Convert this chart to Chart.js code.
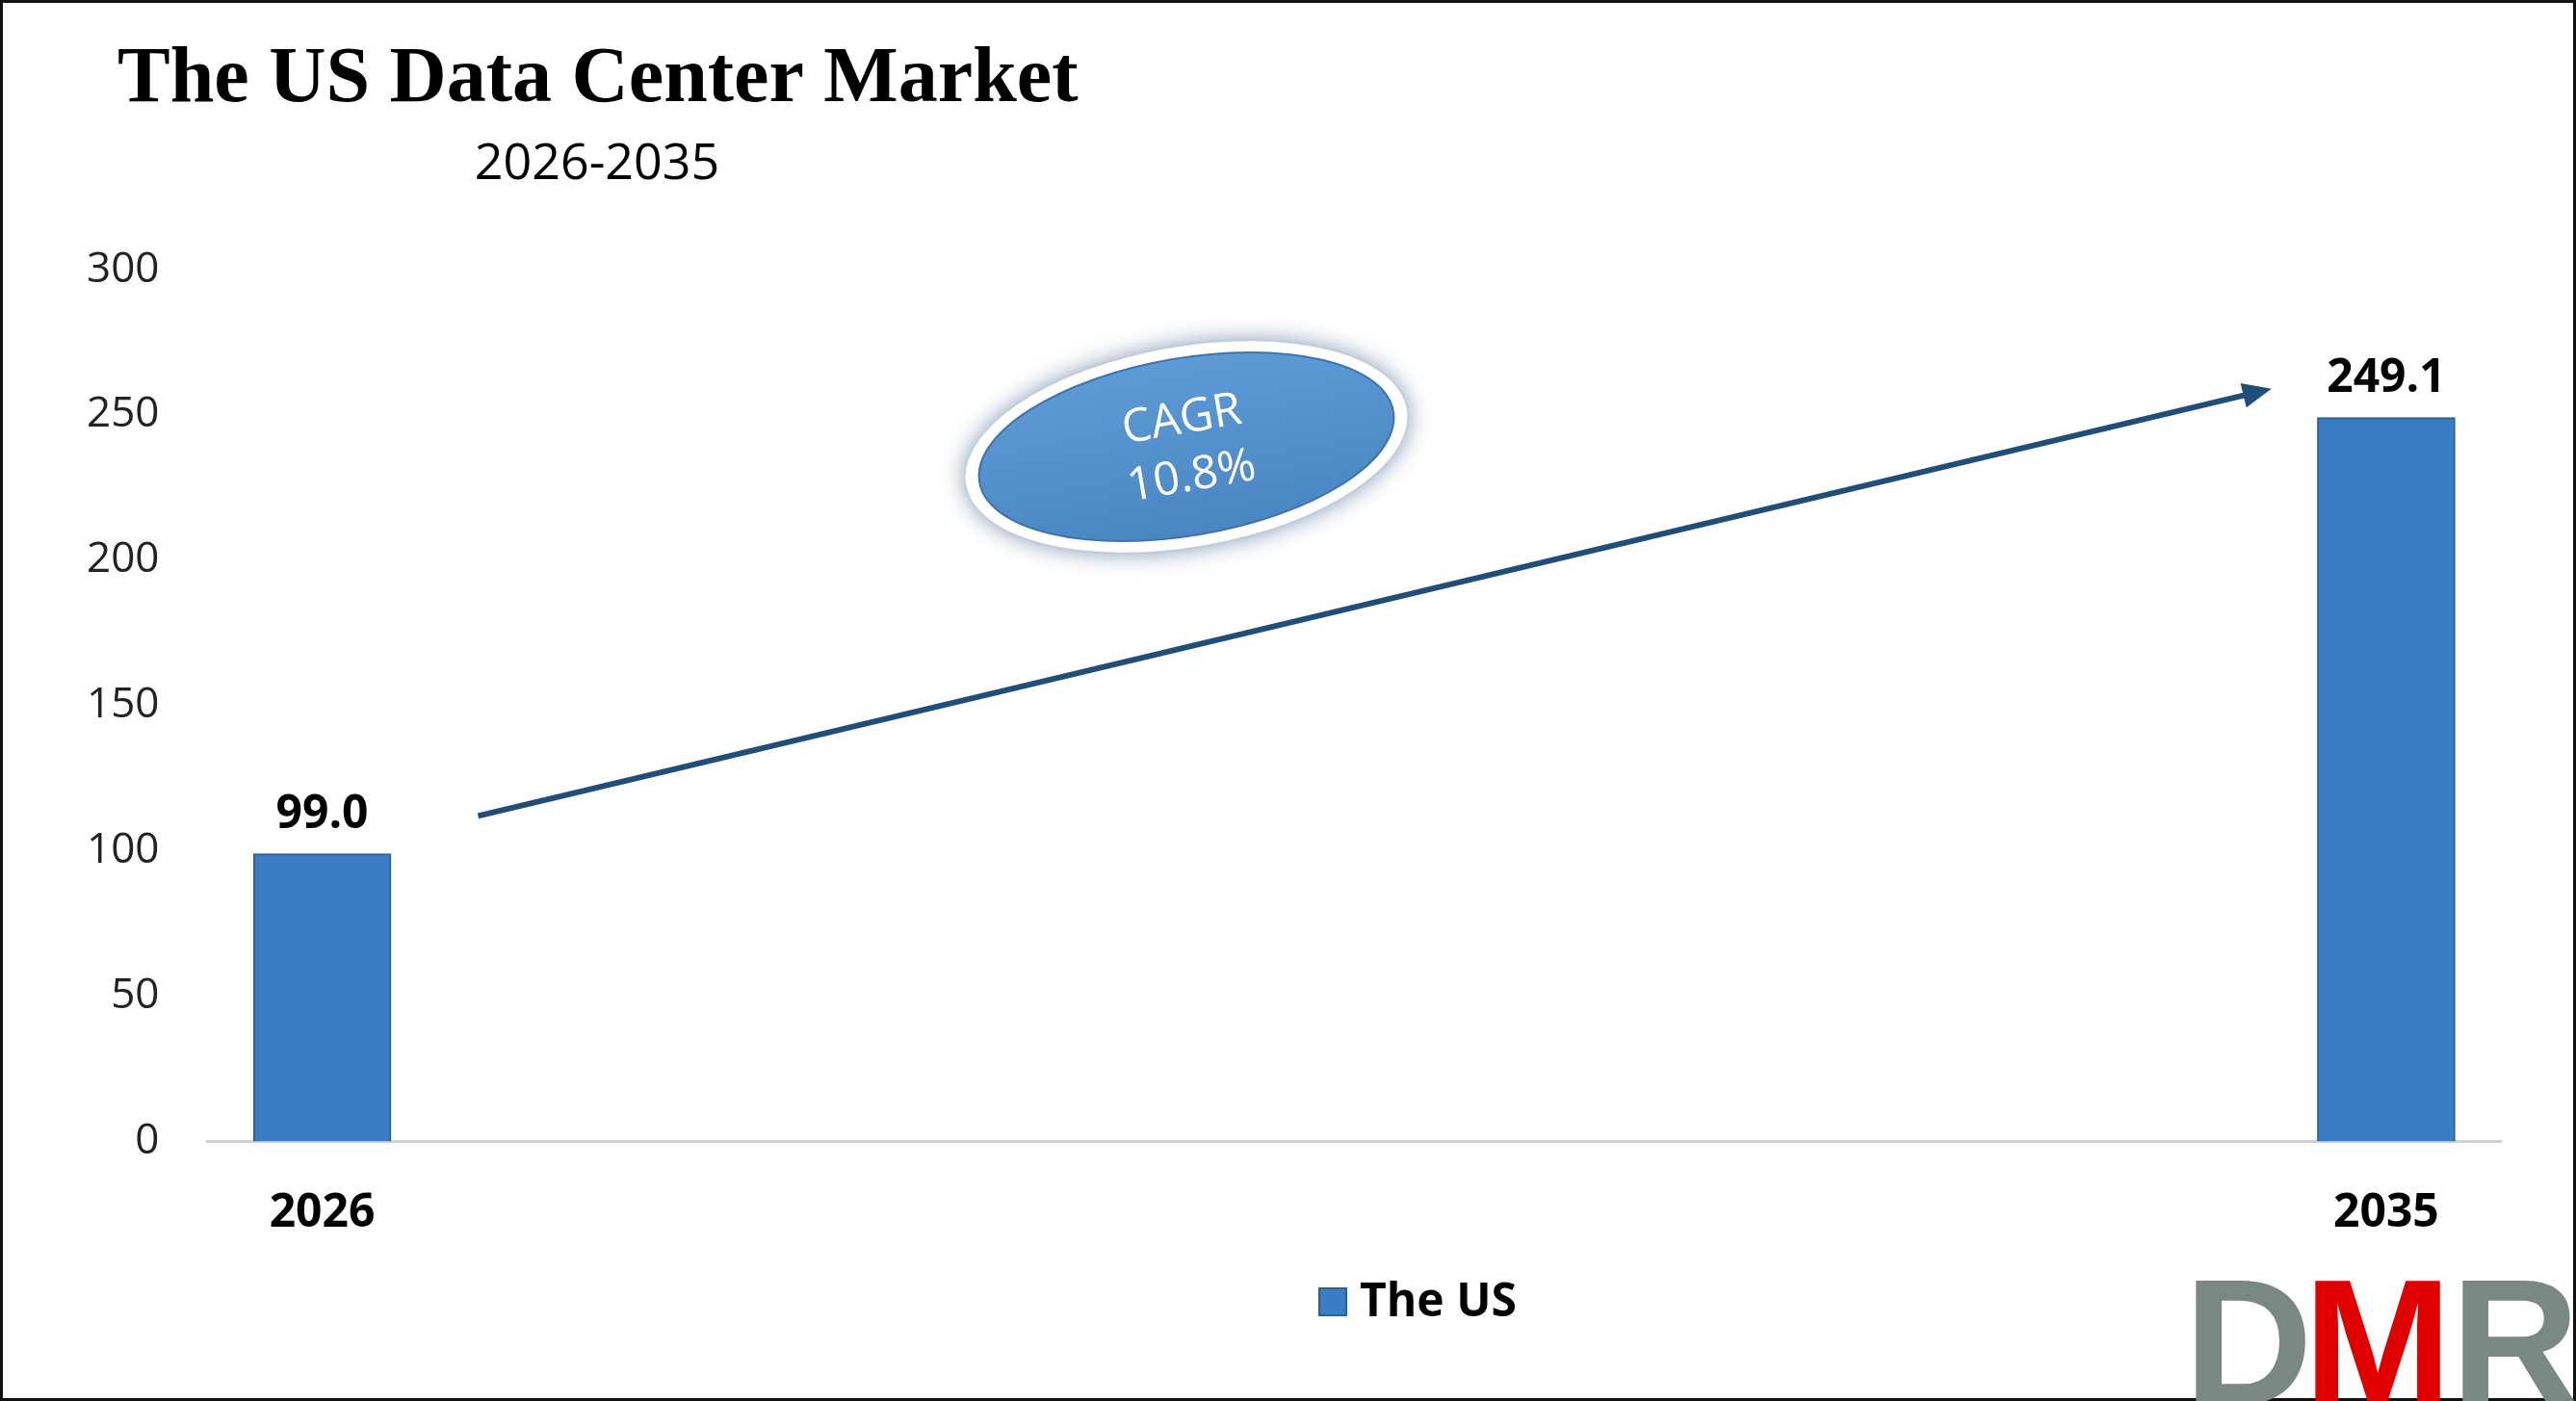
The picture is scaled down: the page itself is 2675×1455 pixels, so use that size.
<!DOCTYPE html>
<html><head><meta charset="utf-8">
<script src="https://cdn.jsdelivr.net/npm/chart.js@4"></script>
<style>html,body{margin:0;padding:0;background:#fff}#wrap{width:2675px;height:1455px;position:relative}</style>
</head><body><div id="wrap"><canvas id="c" width="2675" height="1455"></canvas></div>
<script>
const years = [2026, 2035];
const values = [99.0, 249.1];
const seriesName = 'The US';
const yTicks = [0, 50, 100, 150, 200, 250, 300];
const cagrText = ['CAGR', '10.8%'];
const arrowFrom = [2026.68, 112];
const arrowTo = [2034.5, 259];

const deco = {
  id: 'deco',
  afterDraw(chart) {
    const ctx = chart.ctx, x = chart.scales.x, y = chart.scales.y;
    ctx.save();
    ctx.strokeStyle = '#111'; ctx.lineWidth = 3;
    ctx.strokeRect(1.5, 1.5, 2672, 1452);
    ctx.fillStyle = '#000'; ctx.textBaseline = 'middle';
    ctx.font = 'bold 82px "Liberation Serif", serif'; ctx.textAlign = 'left';
    ctx.fillText('The US Data Center Market', 122, 84);
    ctx.font = '52px "Open Sans", sans-serif'; ctx.textAlign = 'center';
    ctx.fillText('2026-2035', 620, 171);
    ctx.font = 'bold 48px "Open Sans", sans-serif'; ctx.textBaseline = 'bottom';
    years.forEach((yr, i) => ctx.fillText(values[i].toFixed(1), x.getPixelForValue(yr), y.getPixelForValue(values[i]) - 16));
    const x1 = x.getPixelForValue(arrowFrom[0]), y1 = y.getPixelForValue(arrowFrom[1]);
    const x2 = x.getPixelForValue(arrowTo[0]), y2 = y.getPixelForValue(arrowTo[1]);
    const ang = Math.atan2(y2 - y1, x2 - x1);
    ctx.strokeStyle = '#1f4e79'; ctx.fillStyle = '#1f4e79'; ctx.lineWidth = 6;
    ctx.beginPath(); ctx.moveTo(x1, y1); ctx.lineTo(x2 - 20 * Math.cos(ang), y2 - 20 * Math.sin(ang)); ctx.stroke();
    ctx.beginPath(); ctx.moveTo(x2, y2);
    ctx.lineTo(x2 - 30 * Math.cos(ang) + 13 * Math.sin(ang), y2 - 30 * Math.sin(ang) - 13 * Math.cos(ang));
    ctx.lineTo(x2 - 30 * Math.cos(ang) - 13 * Math.sin(ang), y2 - 30 * Math.sin(ang) + 13 * Math.cos(ang));
    ctx.closePath(); ctx.fill();
    ctx.translate(1232, 464); ctx.rotate(-0.17);
    ctx.shadowColor = 'rgba(30,70,120,0.6)'; ctx.shadowBlur = 25;
    ctx.fillStyle = '#fff';
    ctx.beginPath(); ctx.ellipse(0, 0, 232, 104, 0, 0, Math.PI * 2); ctx.fill();
    ctx.shadowBlur = 0;
    const g = ctx.createLinearGradient(0, -92, 0, 92);
    g.addColorStop(0, '#5d9ad6'); g.addColorStop(1, '#4a86c2');
    ctx.fillStyle = g;
    ctx.beginPath(); ctx.ellipse(0, 0, 218, 92, 0, 0, Math.PI * 2); ctx.fill();
    ctx.strokeStyle = '#3d74ad'; ctx.lineWidth = 2; ctx.stroke();
    ctx.fillStyle = '#fff'; ctx.font = '48px "Open Sans", sans-serif'; ctx.textBaseline = 'middle';
    ctx.fillText(cagrText[0], 0, -28); ctx.fillText(cagrText[1], 0, 32);
    ctx.setTransform(1, 0, 0, 1, 0, 0);
    ctx.fillStyle = '#3b7dc4'; ctx.fillRect(1370, 1338, 28, 28);
    ctx.strokeStyle = '#2a5f99'; ctx.lineWidth = 2; ctx.strokeRect(1370, 1338, 28, 28);
    ctx.fillStyle = '#000'; ctx.font = 'bold 48px "Open Sans", sans-serif'; ctx.textAlign = 'left';
    ctx.fillText(seriesName, 1412, 1353);
    ctx.font = 'bold 185px "Liberation Sans", sans-serif'; ctx.textBaseline = 'alphabetic'; ctx.textAlign = 'left';
    ctx.fillStyle = '#7a8884'; ctx.fillText('D', 2268, 1458);
    ctx.fillStyle = '#e00000'; ctx.fillText('M', 2392, 1458);
    ctx.fillStyle = '#7a8884'; ctx.fillText('R', 2545, 1458);
    ctx.restore();
  }
};

new Chart(document.getElementById('c'), {
  type: 'bar',
  data: { datasets: [{ label: seriesName, data: years.map((yr, i) => ({ x: yr, y: values[i] })),
    backgroundColor: '#3b7dc4', borderColor: '#2a5f99', borderWidth: 2, barThickness: 143 }] },
  options: {
    responsive: false, devicePixelRatio: 1, animation: false,
    layout: { padding: { left: 40, right: 78, top: 280, bottom: 120 } },
    plugins: { legend: { display: false }, tooltip: { enabled: false } },
    scales: {
      x: { type: 'linear', min: 2025.5, max: 2035.5, offset: false,
        afterBuildTicks: s => { s.ticks = years.map(v => ({ value: v })); },
        grid: { display: false, drawTicks: false },
        border: { color: '#d0d0d0', width: 3 },
        ticks: { padding: 46, color: '#000', font: { size: 48, weight: 'bold', family: '"Open Sans", sans-serif' }, callback: v => String(v) } },
      y: { min: 0, max: 300,
        afterBuildTicks: s => { s.ticks = yTicks.map(v => ({ value: v })); },
        grid: { display: false, drawTicks: false }, border: { display: false },
        ticks: { padding: 50, color: '#222', font: { size: 44, family: '"Open Sans", sans-serif' } } }
    }
  },
  plugins: [deco]
});
</script></body></html>
